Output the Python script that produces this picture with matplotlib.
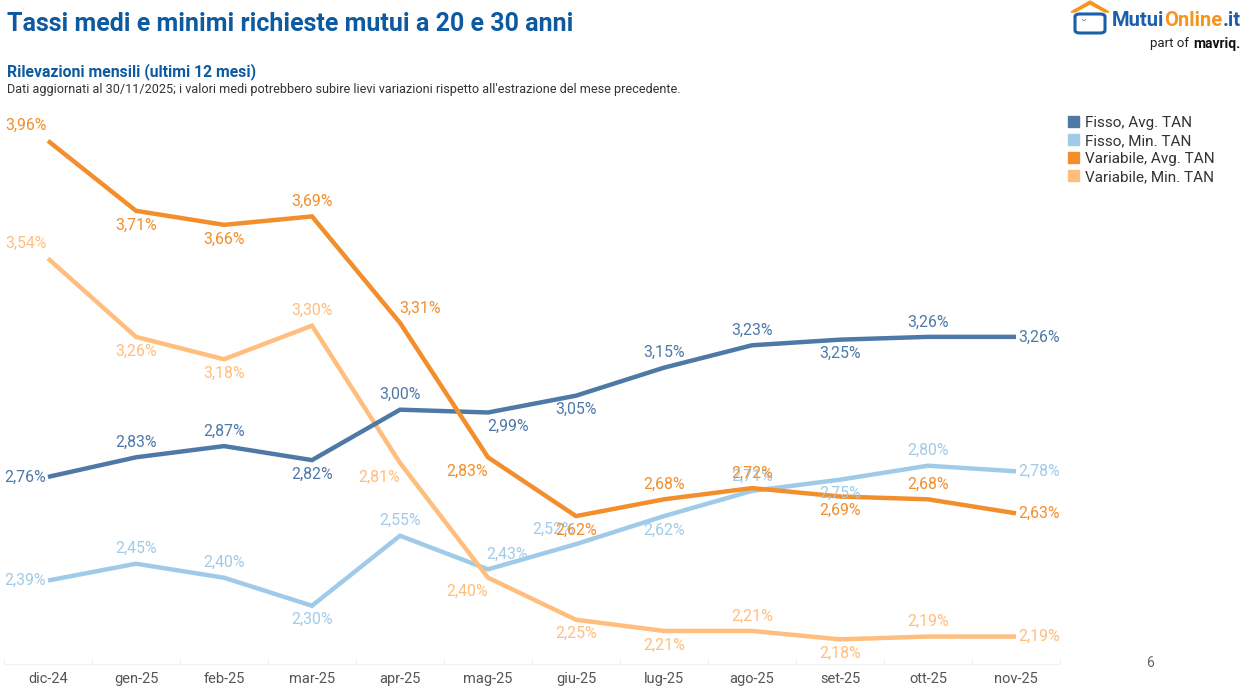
import matplotlib
matplotlib.use("Agg")
import matplotlib.pyplot as plt
from matplotlib.patches import FancyBboxPatch, Rectangle, Polygon
import numpy as np

plt.rcParams['font.family'] = ['Roboto', 'DejaVu Sans']

months = ["dic-24", "gen-25", "feb-25", "mar-25", "apr-25", "mag-25",
          "giu-25", "lug-25", "ago-25", "set-25", "ott-25", "nov-25"]
fisso_avg = [2.76, 2.83, 2.87, 2.82, 3.00, 2.99, 3.05, 3.15, 3.23, 3.25, 3.26, 3.26]
fisso_min = [2.39, 2.45, 2.40, 2.30, 2.55, 2.43, 2.52, 2.62, 2.71, 2.75, 2.80, 2.78]
var_avg = [3.96, 3.71, 3.66, 3.69, 3.31, 2.83, 2.62, 2.68, 2.72, 2.69, 2.68, 2.63]
var_min = [3.54, 3.26, 3.18, 3.30, 2.81, 2.40, 2.25, 2.21, 2.21, 2.18, 2.19, 2.19]
series_names = ["Fisso, Avg. TAN", "Fisso, Min. TAN", "Variabile, Avg. TAN", "Variabile, Min. TAN"]

colors = ["#4e79a7", "#a0cbe8", "#f28e2b", "#ffbe7d"]
# label placement: a=above, b=below, l=left, r=right, la=left-above
place = [
    ["l", "a", "a", "b", "a", "b", "b", "a", "a", "b", "a", "r"],
    ["l", "a", "a", "b", "a", "a", "a", "b", "a", "b", "a", "r"],
    ["la", "b", "b", "a", "a", "b", "b", "a", "a", "b", "a", "r"],
    ["la", "b", "b", "a", "b", "b", "b", "b", "a", "b", "a", "r"],
]
# horizontal nudges (pixels) to avoid collisions
nudge = [
    [0, 0, 0, 0, 0, 20, 0, 0, 0, 0, 0, 0],
    [0, 0, 0, 0, 0, 19, -23, 0, 0, 0, 0, 0],
    [0, 0, 0, 0, 20, -21, 0, 0, 0, 0, 0, 0],
    [0, 0, 0, 0, -21, -21, 0, 0, 0, 0, 0, 0],
]

W, H = 1246, 691
fig = plt.figure(figsize=(W / 100, H / 100), dpi=100)
ax = fig.add_axes([4 / W, (H - 664) / H, 1056 / W, (664 - 110) / H])

x = np.arange(len(months))
data = [fisso_avg, fisso_min, var_avg, var_min]
order = [1, 0, 3, 2]
for k in order:
    ax.plot(x, data[k], color=colors[k], lw=3.2, solid_capstyle='butt',
            solid_joinstyle='miter', zorder=2 + (k in (0, 2)))

px = 0.72
for k in range(4):
    for i, v in enumerate(data[k]):
        p = place[k][i]
        txt = f"{v:.2f}".replace(".", ",") + "%"
        if p == "a":
            off, ha = (0, 15 * px), "center"
        elif p == "b":
            off, ha = (0, -14 * px), "center"
        elif p == "l":
            off, ha = (-2 * px, 0), "right"
        elif p == "r":
            off, ha = (2 * px, 0), "left"
        else:
            off, ha = (-1 * px, 15 * px), "right"
        off = (off[0] + nudge[k][i] * px, off[1])
        ax.annotate(txt, (x[i], v), xytext=off, textcoords="offset points",
                    ha=ha, va="center", fontsize=11.4, color=colors[k], zorder=5)

ax.set_xlim(-0.5, 11.5)
ax.set_ylim(2.092, 4.07)
ax.set_xticks(x)
ax.set_xticklabels(months, fontsize=10.5, color="#555555")
ax.set_xticks(np.arange(-0.5, 12, 1), minor=True)
ax.tick_params(axis='x', which='major', length=0, pad=6)
ax.tick_params(axis='x', which='minor', length=4, color="#eeeeee", direction='in')
ax.set_yticks([])
for s in ["top", "right", "left"]:
    ax.spines[s].set_visible(False)
ax.spines["bottom"].set_color("#f2f2f2")
ax.spines["bottom"].set_linewidth(0.8)

# Legend
for k in range(4):
    yy = 122 + 18 * k
    fig.patches.append(Rectangle((1068 / W, (H - yy - 5) / H), 11 / W, 11 / H,
                                 transform=fig.transFigure, color=colors[k], figure=fig))
    fig.text(1085 / W, (H - yy - 1) / H, series_names[k], fontsize=11, color="#333333",
             va="center", ha="left")

# Titles
fig.text(7 / W, (H - 24) / H, "Tassi medi e minimi richieste mutui a 20 e 30 anni",
         fontsize=18, fontweight="bold", color="#0d5aa0", va="center", ha="left")
fig.text(7 / W, (H - 72) / H, "Rilevazioni mensili (ultimi 12 mesi)",
         fontsize=11.3, fontweight="bold", color="#0d5aa0", va="center", ha="left")
fig.text(7 / W, (H - 89) / H,
         "Dati aggiornati al 30/11/2025; i valori medi potrebbero subire lievi variazioni rispetto all'estrazione del mese precedente.",
         fontsize=9.05, color="#333333", va="center", ha="left")

# Page number
fig.text(1150 / W, (H - 663) / H, "6", fontsize=10, color="#666666", va="center", ha="center")

# Logo
blue_logo = "#1b5fab"
orange_logo = "#f7941d"
fig.patches.append(Polygon([[1071 / W, (H - 12) / H], [1090 / W, (H - 1) / H], [1109 / W, (H - 12) / H],
                            [1105 / W, (H - 12) / H], [1090 / W, (H - 4) / H], [1075 / W, (H - 12) / H]],
                           closed=True, transform=fig.transFigure, color=orange_logo, figure=fig))
fig.patches.append(FancyBboxPatch((1075 / W, (H - 33) / H), 30 / W, 19 / H,
                                  boxstyle="round,pad=0,rounding_size=0.004",
                                  transform=fig.transFigure, fill=False,
                                  ec=blue_logo, lw=2.2, figure=fig))
fig.text(1082 / W, (H - 22) / H, "ᵕ", fontsize=8, color=blue_logo, va="center", ha="left")
t1 = fig.text(1112 / W, (H - 20) / H, "Mutui", fontsize=14.5, fontweight="bold",
              color=blue_logo, va="center", ha="left")
fig.canvas.draw()
r = fig.canvas.get_renderer()
bb = t1.get_window_extent(r)
t2 = fig.text(bb.x1 / W, (H - 20) / H, "Online", fontsize=14.5, fontweight="bold",
              color=orange_logo, va="center", ha="left")
bb2 = t2.get_window_extent(r)
fig.text(bb2.x1 / W, (H - 20) / H, ".it", fontsize=14.5, fontweight="bold",
         color=blue_logo, va="center", ha="left")
t3 = fig.text(1240 / W, (H - 44) / H, "mavriq.", fontsize=10, fontweight="bold",
              color="#111111", va="center", ha="right")
bb3 = t3.get_window_extent(r)
fig.text((bb3.x0 - 4) / W, (H - 44) / H, "part of", fontsize=9.5,
         color="#222222", va="center", ha="right")

fig.savefig("out.png", dpi=100)
